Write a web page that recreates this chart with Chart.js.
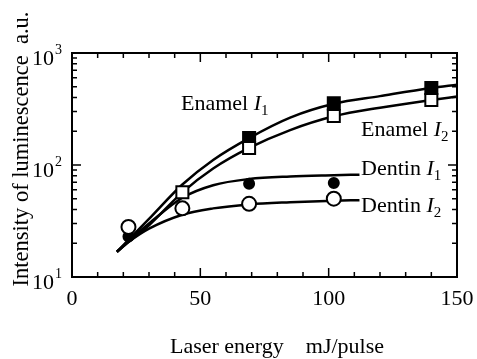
<!DOCTYPE html>
<html>
<head>
<meta charset="utf-8">
<script src="https://cdn.jsdelivr.net/npm/chart.js@4.4.1/dist/chart.umd.min.js"></script>
<style>
  html, body { margin: 0; padding: 0; background: #fff; }
  #wrap { width: 477px; height: 359px; }
</style>
</head>
<body>
<div id="wrap"><canvas id="lumChart" width="477" height="359"></canvas></div>
<script>
// -----------------------------
// Data
// -----------------------------
const energies = [22, 43, 69, 102, 140];
const enamelI1 = [null, null, 174, 355, 487];
const enamelI2 = [null, 57, 142, 274, 380];
const dentinI1 = [23, null, 68, 69, null];
const dentinI2 = [28, 41, 45, 50, null];

// fitted curves (traced)
const curveX = [17.5, 22, 30, 43, 55, 69, 85, 102, 120, 140, 150];
const curveEnamelI1 = [16.8, 21.4, 33, 67, 111, 174, 265, 352, 412, 487, 520];
const curveEnamelI2 = [16.8, 20.5, 29, 57, 93, 142, 205, 272, 325, 380, 408];
const curveDentinX = [17.5, 22, 30, 43, 55, 69, 85, 102, 112];
const curveDentinI1 = [16.8, 21, 30, 51, 66, 75, 79, 81, 82];
const curveDentinI2 = [16.8, 20.5, 27, 36, 41, 44.5, 46.5, 48, 48.5];

const xTickLabels = [0, 50, 100, 150];
const yTickLabels = [1, 2, 3]; // exponents of 10

const serif = "'Liberation Serif', 'DejaVu Serif', serif";

function pts(xs, ys) {
  return xs.map((x, i) => ({ x: x, y: ys[i] })).filter(p => p.y !== null);
}

function curve(xs, ys) {
  return {
    data: pts(xs, ys),
    showLine: true,
    borderColor: "#000",
    borderWidth: 2.5,
    pointRadius: 0,
    cubicInterpolationMode: "monotone",
    order: 5
  };
}

function marks(ys, style, radius, fill, order) {
  return {
    data: pts(energies, ys),
    showLine: false,
    pointStyle: style,
    pointRadius: radius,
    pointBackgroundColor: fill,
    pointBorderColor: "#000",
    pointBorderWidth: 2,
    order: order
  };
}

// -----------------------------
// Frame, ticks and text
// -----------------------------
const framePlugin = {
  id: "frame",
  afterDraw(chart) {
    const ctx = chart.ctx;
    const a = chart.chartArea;
    const xs = chart.scales.x, ys = chart.scales.y;
    ctx.save();
    ctx.strokeStyle = "#000";
    ctx.lineWidth = 2;
    ctx.strokeRect(a.left, a.top, a.right - a.left, a.bottom - a.top);

    ctx.lineWidth = 1.5;
    ctx.beginPath();
    for (let v = 10; v < 150; v += 10) {
      const px = xs.getPixelForValue(v);
      const len = v % 50 === 0 ? 9 : 5;
      ctx.moveTo(px, a.bottom); ctx.lineTo(px, a.bottom - len);
      ctx.moveTo(px, a.top); ctx.lineTo(px, a.top + len);
    }
    for (let d = 10; d < 1000; d *= 10) {
      for (let m = 1; m <= 9; m++) {
        const v = d * m;
        if (v <= 10 || v >= 1000) continue;
        const py = ys.getPixelForValue(v);
        const len = m === 1 ? 9 : 5;
        ctx.moveTo(a.left, py); ctx.lineTo(a.left + len, py);
        ctx.moveTo(a.right, py); ctx.lineTo(a.right - len, py);
      }
    }
    ctx.stroke();

    ctx.fillStyle = "#000";
    ctx.font = "22px " + serif;
    ctx.textAlign = "center";
    ctx.textBaseline = "alphabetic";
    xTickLabels.forEach(v => {
      ctx.fillText(String(v), xs.getPixelForValue(v), 305);
    });

    yTickLabels.forEach(e => {
      const py = ys.getPixelForValue(Math.pow(10, e));
      ctx.font = "22px " + serif;
      ctx.textAlign = "right";
      ctx.fillText("10", 54, py + 12);
      ctx.font = "14px " + serif;
      ctx.textAlign = "left";
      ctx.fillText(String(e), 55, py + 1);
    });

    ctx.font = "22px " + serif;
    ctx.textAlign = "center";
    ctx.fillText("Laser energy    mJ/pulse", 277, 353);

    ctx.save();
    ctx.translate(28, 149);
    ctx.rotate(-Math.PI / 2);
    ctx.font = "22.5px " + serif;
    ctx.fillText("Intensity of luminescence  a.u.", 0, 0);
    ctx.restore();

    function label(name, sub, x, y) {
      ctx.textAlign = "left";
      ctx.font = "22px " + serif;
      ctx.fillText(name + " ", x, y);
      let w = ctx.measureText(name + " ").width;
      ctx.font = "italic 22px " + serif;
      ctx.fillText("I", x + w, y);
      w += ctx.measureText("I").width;
      ctx.font = "15px " + serif;
      ctx.fillText(sub, x + w, y + 5);
    }
    label("Enamel", "1", 181, 110);
    label("Enamel", "2", 361, 136);
    label("Dentin", "1", 361, 175);
    label("Dentin", "2", 361, 212);
    ctx.restore();
  }
};

// -----------------------------
// Chart
// -----------------------------
const lumCtx = document.getElementById("lumChart").getContext("2d");
const lumChart = new Chart(lumCtx, {
  type: "scatter",
  data: {
    datasets: [
      marks(enamelI1, "rect", 8.5, "#000", 1),
      marks(enamelI2, "rect", 8.5, "#fff", 0),
      marks(dentinI1, "circle", 5, "#000", 1),
      marks(dentinI2, "circle", 7, "#fff", 0),
      curve(curveX, curveEnamelI1),
      curve(curveX, curveEnamelI2),
      curve(curveDentinX, curveDentinI1),
      curve(curveDentinX, curveDentinI2)
    ]
  },
  options: {
    responsive: false,
    animation: false,
    layout: { padding: { left: 72, right: 20, top: 53, bottom: 82 } },
    plugins: { legend: { display: false }, tooltip: { enabled: false } },
    scales: {
      x: { type: "linear", min: 0, max: 150, display: false },
      y: { type: "logarithmic", min: 10, max: 1000, display: false }
    }
  },
  plugins: [framePlugin]
});
</script>
</body>
</html>
